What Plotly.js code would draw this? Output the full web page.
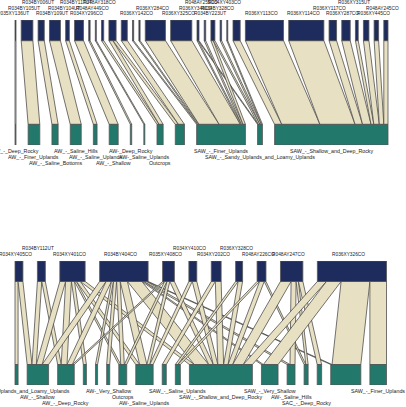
<!DOCTYPE html>
<html><head><meta charset="utf-8">
<script src="https://cdn.plot.ly/plotly-3.0.1.min.js"></script>
<style>html,body{margin:0;padding:0;background:#fff;overflow:hidden}</style>
</head><body><div id="chart" style="width:406px;height:407px"></div>
<script>
// ---------- Panel 1 data ----------
const p1TopLabels = ["R035XY136UT","R034BY105UT","R034BY006UT","R034BY109UT","R034BY104UT","R034BY117UT","R034XY296CO","R048AY449CO","R048AY318CO","","","","R036XY142CO","R036XY284CO","R036XY325CO","R036XY346CO","R048AY255CO","R034BY223UT","R034BY328CO","R034XY403CO","","R036XY113CO","R036XY114CO","R036XY117CO","R036XY287CO","R036XY315UT","","R036XY445CO","R048AY245CO"];
const p1BotLabels = ["AW_-_Deep_Rocky","AW_-_Finer_Uplands","AW_-_Saline_Bottoms","AW_-_Saline_Hills","AW_-_Saline_Uplands","AW_-_Shallow","AW-_Deep_Rocky","AW-_Saline_Uplands","Outcrops","","SAW_-_Finer_Uplands","SAW_-_Sandy_Uplands_and_Loamy_Uplands","SAW_-_Shallow_and_Deep_Rocky"];
const p1Src = [0,1,2,3,4,5,6,7,8,9,9,10,11,12,13,14,15,15,16,17,17,18,19,20,21,22,23,24,25,26,27,28];
const p1Dst = [0,1,2,3,4,5,6,7,8,8,9,9,10,10,10,10,10,11,10,10,11,11,11,12,12,12,12,12,12,12,12,12];
const p1Val = [1,11.7,6.2,11,3.7,9,1.4,1,2.2,4,3.2,6,1.2,1.2,20.2,21.2,1.2,0.8,1.5,2.4,1.6,1.5,1,7.2,38.2,35.2,7.5,8.5,2.8,5.5,4.5,4.2];

// ---------- Panel 2 data ----------
const p2TopLabels = ["R034XY405CO","R034BY112UT","R034XY401CO","R034BY404CO","R035XY408CO","R034XY410CO","R034XY202CO","R036XY328CO","R048AY226CO","R048AY247CO","R036XY326CO"];
const p2BotLabels = ["AW_-_Sandy_Uplands_and_Loamy_Uplands","AW_-_Shallow","AW_-_Deep_Rocky","","","AW-_Very_Shallow","Outcrops","AW-_Saline_Uplands","","SAW_-_Saline_Uplands","SAW_-_Shallow_and_Deep_Rocky","SAW_-_Very_Shallow","AW-_Saline_Hills","SAC_-_Deep_Rocky","","","SAW_-_Finer_Uplands"];
const p2Src = [0,0, 1,1, 2,2,2,2,2,2, 3,3,3,3,3,3,3,3,3,3, 4,4,4,4, 5,5, 6,6, 7,7, 8,8,8, 9,9,9,9, 10,10,10,10];
const p2Dst = [0,1, 1,2, 1,2,3,6,7,10, 1,2,4,5,6,7,10,11,12,15, 2,6,7,10, 7,10, 8,10, 9,10, 9,10,13, 10,12,13,14, 10,11,15,16];
const p2Val = [3.2,5, 4.5,3.7, 6,6,3.2,2,4,5, 6.7,5.5,2.2,3.2,3.7,7.5,15,2,3,1.4, 2,2.5,3,4.7, 3.5,4.7, 4.2,6, 2.6,4.6, 2.6,4.8,1.8, 11,5.2,2.4,4.6, 9.4,15.2,29.8,17.2];

// ---------- styles ----------
const NAVY = '#1d2c5d', TEAL = '#21786b', BEIGE = '#e7e0c3', EDGE = '#3a3a3a', BAREDGE = '#555555';
const FONT = 'Arial, Liberation Sans, sans-serif', TXT = '#222222';
const TOPSIZE = 4.8, TOPFIT = 4.4, BOTSIZE = 5.3, GAPRATIO = 0.64;
const BARH = 0.165;
const W = 406, H = 407, X0 = 15;

const traces = [], annotations = [], layout = {};
const ctx = document.createElement('canvas').getContext('2d');

function placeLabels(centers, labels, scale, ax, ay, yVal, dir, size, fitSize, xshift, rowGap) {
  ctx.font = fitSize + 'px "Liberation Sans"';
  const rowEnd = [-1e9, -1e9, -1e9];
  labels.forEach((lab, i) => {
    if (!lab) return;
    const w = ctx.measureText(lab).width;
    const cpx = centers[i] * scale;
    const l = cpx - w / 2, r = cpx + w / 2;
    let row = rowEnd.findIndex(e => l > e);
    if (row < 0) row = rowEnd.indexOf(Math.min(...rowEnd));
    rowEnd[row] = r;
    annotations.push({xref: ax, yref: ay, x: centers[i], y: yVal, text: lab, showarrow: false,
      xanchor: 'center', yanchor: 'middle', xshift: xshift, yshift: dir * (6.2 + rowGap * row),
      font: {family: FONT, size: size, color: TXT}, borderpad: 0});
  });
}

function buildPanel(top, bot, src, dst, val, n, x1, yPix0, yPix1, topRowGap) {
  const xa = n === 1 ? 'x' : 'x' + n, ya = n === 1 ? 'y' : 'y' + n;
  const nT = top.length, nB = bot.length;
  const tS = new Array(nT).fill(0), bS = new Array(nB).fill(0);
  src.forEach((s, k) => { tS[s] += val[k]; bS[dst[k]] += val[k]; });
  const T = tS.reduce((a, b) => a + b, 0), G = GAPRATIO * T;
  const gT = G / (nT - 1), gB = G / (nB - 1);
  const tX = [], bX = [];
  let c = 0; tS.forEach(v => { tX.push(c); c += v + gT; });
  c = 0; bS.forEach(v => { bX.push(c); c += v + gB; });
  const idx = src.map((_, k) => k);
  const tO = tX.slice(), bO = bX.slice(), lt = [], lb = [];
  idx.slice().sort((a, b) => src[a] - src[b] || dst[a] - dst[b]).forEach(k => { lt[k] = tO[src[k]]; tO[src[k]] += val[k]; });
  idx.slice().sort((a, b) => dst[a] - dst[b] || src[a] - src[b]).forEach(k => { lb[k] = bO[dst[k]]; bO[dst[k]] += val[k]; });
  const yT = 1 - BARH, yB = BARH;
  idx.forEach(k => {
    traces.push({type: 'scatter', mode: 'lines', xaxis: xa, yaxis: ya, hoverinfo: 'skip', showlegend: false,
      x: [lt[k], lt[k] + val[k], lb[k] + val[k], lb[k], lt[k]], y: [yT, yT, yB, yB, yT],
      fill: 'toself', fillcolor: BEIGE, line: {color: EDGE, width: 0.7}});
  });
  const rect = (x0, w, y0, y1, col) => traces.push({type: 'scatter', mode: 'lines', xaxis: xa, yaxis: ya,
    hoverinfo: 'skip', showlegend: false, x: [x0, x0 + w, x0 + w, x0, x0], y: [y0, y0, y1, y1, y0],
    fill: 'toself', fillcolor: col, line: {color: BAREDGE, width: 0.8}});
  tS.forEach((v, i) => rect(tX[i], v, yT, 1, NAVY));
  bS.forEach((v, j) => rect(bX[j], v, 0, yB, TEAL));
  const span = T + G, scale = (x1 - X0) / span;
  layout[n === 1 ? 'xaxis' : 'xaxis' + n] = {range: [-X0 / scale, (W - X0) / scale], domain: [0, 1], visible: false, fixedrange: true, anchor: ya};
  layout[n === 1 ? 'yaxis' : 'yaxis' + n] = {range: [0, 1], domain: [1 - yPix1 / H, 1 - yPix0 / H], visible: false, fixedrange: true, anchor: xa};
  placeLabels(tX.map((x, i) => x + tS[i] / 2), top, scale, xa, ya, 1, 1, TOPSIZE, TOPFIT, -3, topRowGap);
  placeLabels(bX.map((x, j) => x + bS[j] / 2), bot, scale, xa, ya, 0, -1, BOTSIZE, BOTSIZE, 0, 5.8);
}

buildPanel(p1TopLabels, p1BotLabels, p1Src, p1Dst, p1Val, 1, 388, 20, 145, 5.7);
buildPanel(p2TopLabels, p2BotLabels, p2Src, p2Dst, p2Val, 2, 386.5, 261, 385, 6.5);

Object.assign(layout, {width: W, height: H, margin: {l: 0, r: 0, t: 0, b: 0},
  paper_bgcolor: '#ffffff', plot_bgcolor: '#ffffff', showlegend: false, annotations: annotations});
Plotly.newPlot('chart', traces, layout, {staticPlot: true, displayModeBar: false});
</script></body></html>
